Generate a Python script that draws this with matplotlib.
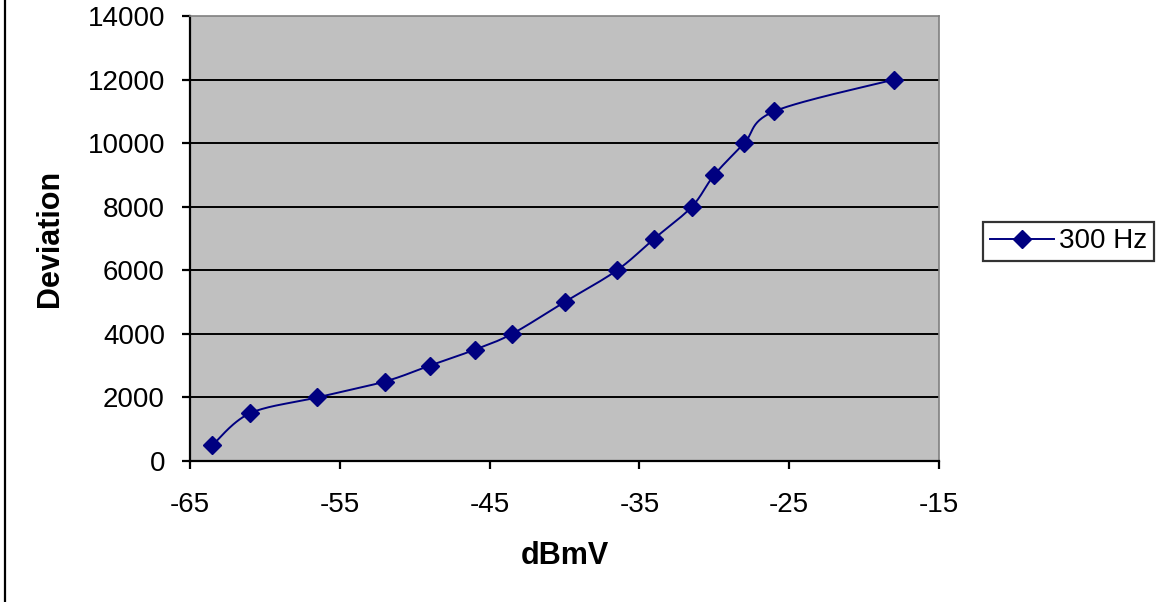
import numpy as np
import matplotlib
matplotlib.use("Agg")
import matplotlib.pyplot as plt
from matplotlib.lines import Line2D

plt.rcParams['font.family'] = ['Liberation Sans', 'DejaVu Sans']
plt.rcParams['axes.unicode_minus'] = False

# data
dbmv = [-63.5, -61, -56.5, -52, -49, -46, -43.5, -40, -36.5, -34, -31.5, -30, -28, -26, -18]
deviation = [500, 1500, 2000, 2500, 3000, 3500, 4000, 5000, 6000, 7000, 8000, 9000, 10000, 11000, 12000]
series_name = "300 Hz"
x_ticks = [-65, -55, -45, -35, -25, -15]
y_ticks = [0, 2000, 4000, 6000, 8000, 10000, 12000, 14000]

navy = "#000080"


def smooth_curve(ax, xs, ys, steps=30):
    """Excel-like smoothed line: Catmull-Rom style bezier in screen space."""
    pts = ax.transData.transform(np.column_stack([xs, ys]))
    n = len(pts)
    out = [pts[0]]
    for i in range(n - 1):
        p0 = pts[i - 1] if i > 0 else pts[i]
        p1 = pts[i]
        p2 = pts[i + 1]
        p3 = pts[i + 2] if i + 2 < n else pts[i + 1]
        c1 = p1 + (p2 - p0) / 6.0
        c2 = p2 - (p3 - p1) / 6.0
        t = np.linspace(0, 1, steps)[1:, None]
        seg = ((1 - t) ** 3) * p1 + 3 * ((1 - t) ** 2) * t * c1 + 3 * (1 - t) * t ** 2 * c2 + t ** 3 * p2
        out.extend(seg)
    out = np.array(out)
    return ax.transData.inverted().transform(out)


fig = plt.figure(figsize=(11.63, 6.02), dpi=100)
ax = fig.add_axes([190 / 1163, 1 - 461 / 602, (939 - 190) / 1163, (461 - 16) / 602])
ax.set_facecolor("#C0C0C0")
ax.set_xlim(-65, -15)
ax.set_ylim(0, 14000)
ax.set_xticks(x_ticks)
ax.set_yticks(y_ticks)

for y in y_ticks[1:-1]:
    ax.axhline(y, color="black", lw=1.4, zorder=1)

curve = smooth_curve(ax, dbmv, deviation)
ax.plot(curve[:, 0], curve[:, 1], color=navy, lw=1.4, zorder=3)
ax.plot(dbmv, deviation, ls="none", marker="D", ms=9.5, color=navy, zorder=4)

for side in ["top", "right"]:
    ax.spines[side].set_color("#808080")
    ax.spines[side].set_linewidth(1.2)
for side in ["left", "bottom"]:
    ax.spines[side].set_color("black")
    ax.spines[side].set_linewidth(1.6)

ax.tick_params(axis="both", direction="out", length=6, width=1.6, labelsize=20, colors="black")
ax.tick_params(axis="x", pad=16)
ax.tick_params(axis="y", pad=12)

ax.set_xlabel("dBmV", fontsize=22, fontweight="bold", labelpad=17)
ax.set_ylabel("Deviation", fontsize=22, fontweight="bold", labelpad=16)

handle = Line2D([], [], color=navy, lw=1.4, marker="D", ms=9.5)
leg = fig.legend([handle], [series_name], loc="center left", bbox_to_anchor=(983 / 1163, 1 - 241.5 / 602),
                 fontsize=20, frameon=True, fancybox=False, edgecolor="black", handlelength=2.3,
                 borderpad=0.25, handletextpad=0.2, borderaxespad=0)
leg.get_frame().set_linewidth(1.6)

fig.add_artist(Line2D([4.5 / 1163, 4.5 / 1163], [0, 1], transform=fig.transFigure, color="black", lw=1.6))

fig.savefig("out.png", dpi=100)
